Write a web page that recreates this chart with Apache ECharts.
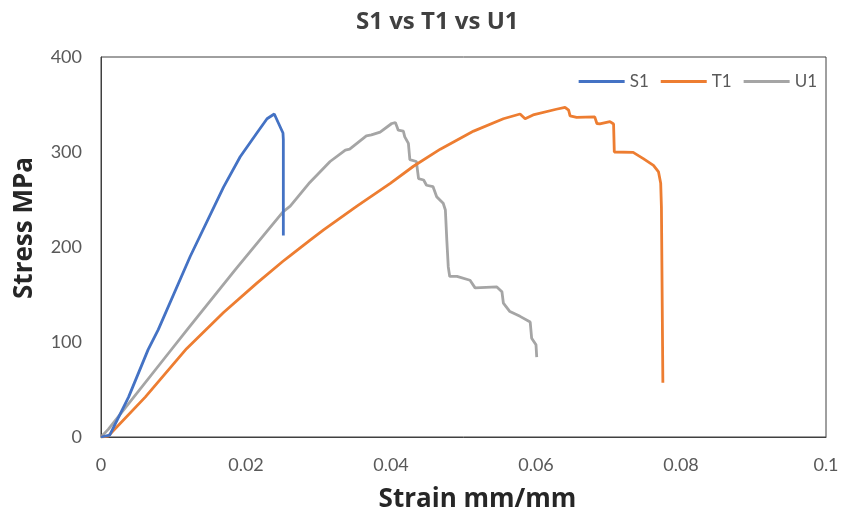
<!DOCTYPE html>
<html><head><meta charset="utf-8">
<script src="https://cdn.jsdelivr.net/npm/echarts@6/dist/echarts.min.js"></script>
<style>html,body{margin:0;padding:0;background:#fff}#c{width:841px;height:512px}</style>
</head><body><div id="c"></div>
<script>
const xTicks = [0, 0.02, 0.04, 0.06, 0.08, 0.1];
const yTicks = [0, 100, 200, 300, 400];
const seriesNames = ['S1', 'T1', 'U1'];
const s1Strain = [0, 0.0012, 0.0038, 0.0065, 0.0079, 0.0123, 0.0169, 0.0192, 0.0215, 0.0229, 0.0239, 0.0245, 0.0251, 0.02515, 0.02515];
const s1Stress = [0, 2, 42, 92, 113, 190, 263, 295, 320, 335, 340, 330, 320, 313, 212];
const t1Strain = [0, 0.001, 0.0061, 0.0118, 0.0169, 0.0215, 0.0251, 0.0261, 0.0288, 0.0307, 0.0353, 0.0399, 0.0431, 0.0468, 0.0514, 0.0555, 0.0578, 0.0585, 0.0596, 0.0628, 0.064, 0.0645, 0.0647, 0.0656, 0.0681, 0.0684, 0.0688, 0.0702, 0.0707, 0.0708, 0.0734, 0.0748, 0.0762, 0.0769, 0.0772, 0.0773, 0.0775];
const t1Stress = [0, 1, 42, 93, 131, 162, 185, 191, 207, 218, 243, 267, 285, 303, 322, 335, 340, 335, 339, 345, 347, 344, 338, 336.5, 337, 330, 329.5, 332, 329.5, 300, 299.6, 293, 286, 279, 267, 242, 57];
const u1Strain = [0, 0.001, 0.0095, 0.012, 0.0185, 0.0251, 0.0261, 0.0288, 0.0316, 0.0337, 0.0343, 0.0366, 0.0373, 0.0385, 0.0401, 0.0406, 0.0408, 0.041, 0.0417, 0.0419, 0.0424, 0.0426, 0.0435, 0.0438, 0.0445, 0.0449, 0.0458, 0.0463, 0.0472, 0.0475, 0.0477, 0.0479, 0.0481, 0.0491, 0.0509, 0.0516, 0.0546, 0.0553, 0.0555, 0.0564, 0.0578, 0.0592, 0.0594, 0.06, 0.0601];
const u1Stress = [0, 8, 90, 114, 176, 237, 243, 268, 290, 302, 303, 317, 318, 321, 330, 331, 327, 323, 322, 316, 309, 292, 290, 272, 270.5, 265, 263.5, 253, 246, 239, 207, 179, 169, 169, 165, 157, 158, 153, 141, 132, 127, 121, 104, 97, 84];

const colors = ['#4472C4', '#ED7D31', '#A5A5A5'];
const pairs = (xs, ys) => xs.map((x, i) => [x, ys[i]]);
const dataSets = [pairs(s1Strain, s1Stress), pairs(t1Strain, t1Stress), pairs(u1Strain, u1Stress)];
const BOLD = 'Open Sans';
const FONT = 'Lato';
const chart = echarts.init(document.getElementById('c'), null, {renderer: 'canvas'});
chart.setOption({
  animation: false,
  color: colors,
  title: {
    text: 'S1 vs T1 vs U1', left: 351, top: 5,
    textStyle: {fontFamily: BOLD, fontWeight: 'bold', fontSize: 24, color: '#404040'}
  },
  legend: {
    data: seriesNames, right: 19, top: 68, icon: 'rect', itemWidth: 46, itemHeight: 3, itemGap: 12,
    textStyle: {fontFamily: FONT, fontSize: 17, color: '#595959'}
  },
  grid: {left: 101, right: 15, top: 57, bottom: 75, show: true, borderColor: '#404040', borderWidth: 1, containLabel: false, outerBoundsMode: 'none'},
  xAxis: {
    type: 'value', min: xTicks[0], max: xTicks[xTicks.length - 1], interval: 0.02,
    name: 'Strain mm/mm', nameLocation: 'middle', nameGap: 50,
    nameTextStyle: {fontFamily: BOLD, fontWeight: 'bold', fontSize: 26, color: '#262626', padding: [0, 0, 0, 28]},
    axisLine: {show: true, lineStyle: {color: '#404040', width: 1}},
    axisTick: {show: false}, splitLine: {show: false},
    axisLabel: {margin: 19, fontFamily: FONT, fontSize: 18, color: '#595959', formatter: v => String(+v.toFixed(2))}
  },
  yAxis: {
    type: 'value', min: yTicks[0], max: yTicks[yTicks.length - 1], interval: 100,
    name: 'Stress MPa', nameLocation: 'middle', nameGap: 63,
    nameTextStyle: {fontFamily: BOLD, fontWeight: 'bold', fontSize: 26, color: '#262626', padding: [0, 0, 0, 38]},
    axisLine: {show: true, lineStyle: {color: '#404040', width: 1}},
    axisTick: {show: false}, splitLine: {show: false},
    axisLabel: {margin: 19, fontFamily: FONT, fontSize: 18, color: '#595959'}
  },
  series: seriesNames.map((n, i) => ({
    name: n, type: 'line', data: dataSets[i], showSymbol: false, symbol: 'none', smooth: false,
    lineStyle: {width: 2.8, color: colors[i]}, itemStyle: {color: colors[i]}, z: 3 - i
  }))
});
</script></body></html>
